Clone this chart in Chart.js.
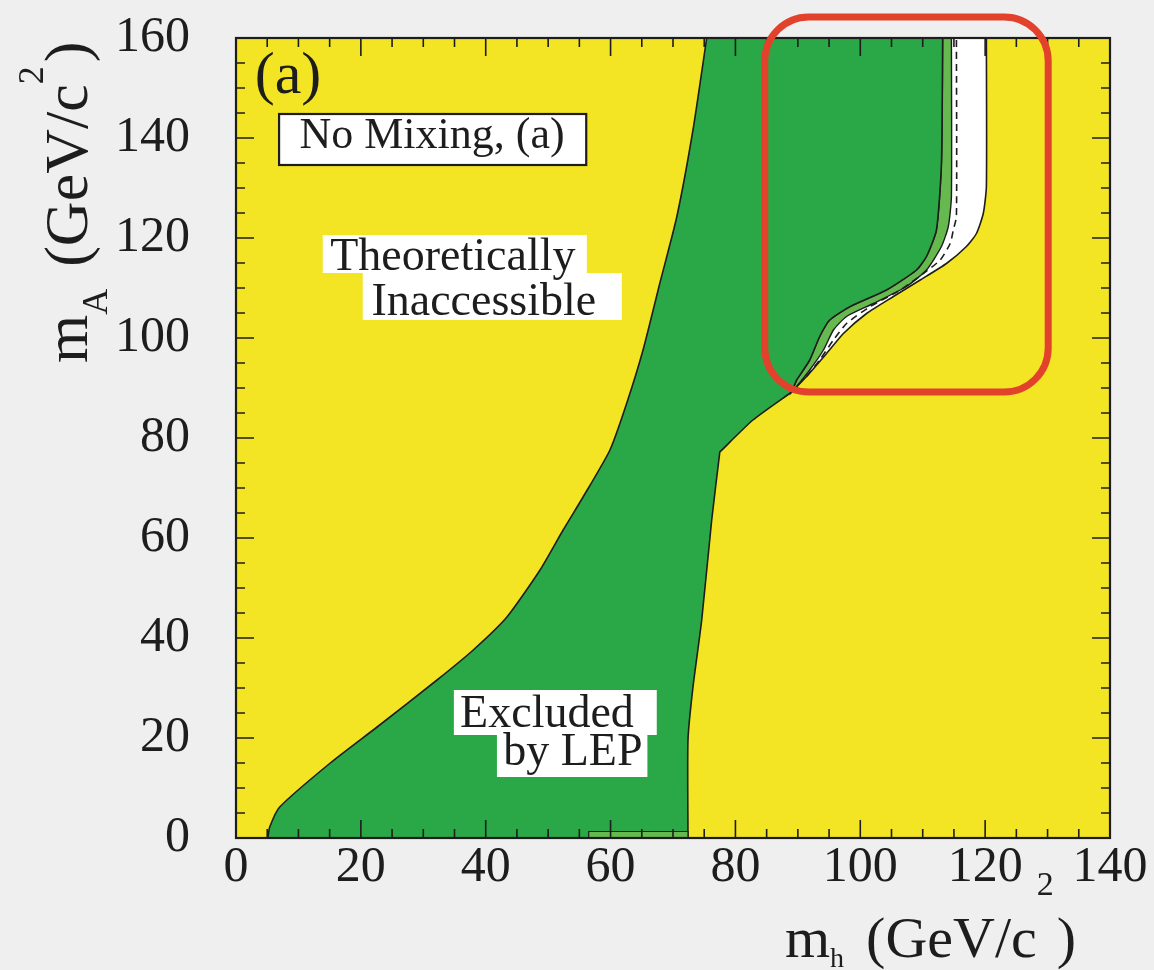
<!DOCTYPE html>
<html>
<head>
<meta charset="utf-8">
<title>LEP exclusion, no mixing</title>
<script src="https://cdn.jsdelivr.net/npm/chart.js@4.4.1/dist/chart.umd.min.js"></script>
<style>
  html, body { margin: 0; padding: 0; background: #efefef; }
  #wrap { width: 1154px; height: 970px; }
</style>
</head>
<body>
<div id="wrap"><canvas id="exclusionChart" width="1154" height="970"></canvas></div>
<script>
// boundaries, points are [m_h, m_A] in GeV/c^2
// theoretical limit (left side of the excluded area), bottom -> top
const theoryEdge = [
  [5.1, 0], [5.4, 2.2], [7.0, 6.2], [15.1, 15], [22.6, 22.2], [32.2, 31.6],
  [38.0, 37.6], [43.4, 44.2], [48.7, 53.6], [52.4, 61.6], [55.6, 68.2],
  [59.9, 77.6], [62.6, 87], [65.2, 97.6], [67.9, 111], [70.6, 124.2],
  [73.2, 141.6], [75.4, 160]
];
// lower right side of the excluded area, bottom -> kink
const lowEdge = [
  [72.4, 0], [72.4, 19.6], [73.2, 30.2], [74.6, 43.6], [76.2, 63.6], [77.5, 77.2]
];
// from the kink up to where all limits meet
const ridgeEdge = [[77.5, 77.2], [82.8, 83.6], [89.0, 89.2]];
// observed limit (dark green), top -> bottom
const observedEdge = [
  [113.2, 160], [113.0, 134.9], [112.2, 121.6], [110.6, 116.3], [109.0, 113.6],
  [104.2, 109.6], [98.4, 106.3], [95.1, 103.6], [93.5, 100.3], [91.9, 95.6],
  [89.8, 91.6]
];
// light green band, top -> bottom
const bandEdge = [
  [114.6, 160], [114.6, 128.3], [114.1, 122.3], [113.0, 118.3], [110.6, 113.6],
  [107.4, 110.3], [102.1, 106.9], [97.8, 104.3], [95.7, 101.6], [94.1, 97.6],
  [91.9, 93.6], [89.8, 90.3], [89.0, 89.2]
];
// expected limit (dashed)
const expectedEdge = [
  [115.4, 159.6], [115.4, 124.3], [114.9, 121.6], [114.4, 118.9], [112.8, 115.6],
  [110.1, 112.9], [106.4, 109.6], [101.6, 106.3], [97.8, 102.9], [95.7, 99.6],
  [93.5, 95.6], [90.9, 91.6]
];
// kinematic limit, edge of the white area, top -> bottom
const kinematicEdge = [
  [120.2, 160], [120.2, 130.3], [119.7, 124.9], [118.6, 120.9], [117.0, 118.3],
  [113.8, 114.9], [109.6, 111.6], [105.3, 108.3], [101.0, 104.9], [97.3, 100.9],
  [94.6, 96.9], [91.4, 92.3], [89.0, 89.2]
];
// small strip near the m_h axis
const smallStrip = [[56.5, 0], [56.5, 1.3], [72.4, 1.3], [72.4, 0]];

const xTicks = [0, 20, 40, 60, 80, 100, 120, 140];
const yTicks = [0, 20, 40, 60, 80, 100, 120, 140, 160];
const xMinor = [5, 10, 15, 25, 30, 35, 45, 50, 55, 65, 70, 75, 85, 90, 95, 105, 110, 115, 125, 130, 135];
const yMinor = [5, 10, 15, 25, 30, 35, 45, 50, 55, 65, 70, 75, 85, 90, 95, 105, 110, 115, 125, 130, 135, 145, 150, 155];

const YELLOW = "#f4e524";
const GREEN = "#2aa847";
const LIGHT_GREEN = "#66b94e";
const INK = "#1d1d1d";
const SERIF = "'Liberation Serif', 'Times New Roman', serif";

const pts = (arr) => arr.map(([x, y]) => ({ x, y }));
const rev = (arr) => arr.slice().reverse();
// repeat the end points so the curve keeps sharp corners where edges join
const edge = (arr) => [arr[0], ...arr, arr[arr.length - 1]];

const area = (data, fill, width, order, tension) => ({
  data: pts(data),
  backgroundColor: fill,
  borderColor: INK,
  borderWidth: width,
  fill: "shape",
  order: order,
  pointRadius: 0,
  tension: tension,
});

const notes = [
  { text: "No Mixing, (a)", box: [6.9, 56.1, 134.6, 144.8], frame: true, x: 31.4, y: 138, size: 44, align: "center" },
  { text: "Theoretically", box: [13.9, 56.2, 113, 120.6], x: 15.1, y: 113.6, size: 46 },
  { text: "Inaccessible", box: [20.3, 61.8, 103.6, 113], x: 21.7, y: 104.6, size: 46 },
  { text: "Excluded", box: [34.9, 67.4, 20.6, 29.6], x: 35.9, y: 22.2, size: 46 },
  { text: "by LEP", box: [41.8, 65.9, 12.2, 20.6], x: 42.8, y: 14.6, size: 46 },
  { text: "(a)", x: 3.0, y: 149, size: 60 },
];

const plotBackground = {
  id: "plotBackground",
  beforeDatasetsDraw(chart) {
    const { ctx, chartArea: a } = chart;
    ctx.save();
    ctx.fillStyle = YELLOW;
    ctx.fillRect(a.left, a.top, a.right - a.left, a.bottom - a.top);
    ctx.restore();
  },
};

const frameAndTicks = {
  id: "frameAndTicks",
  afterDatasetsDraw(chart) {
    const { ctx, chartArea: a, scales } = chart;
    const sx = scales.x, sy = scales.y;
    ctx.save();
    ctx.strokeStyle = INK;
    ctx.lineWidth = 1.6;
    const tick = (vals, len) => {
      vals.forEach((v) => {
        const px = sx.getPixelForValue(v);
        ctx.beginPath();
        ctx.moveTo(px, a.bottom); ctx.lineTo(px, a.bottom - len);
        ctx.moveTo(px, a.top); ctx.lineTo(px, a.top + len);
        ctx.stroke();
      });
    };
    const tickY = (vals, len) => {
      vals.forEach((v) => {
        const py = sy.getPixelForValue(v);
        ctx.beginPath();
        ctx.moveTo(a.left, py); ctx.lineTo(a.left + len, py);
        ctx.moveTo(a.right, py); ctx.lineTo(a.right - len, py);
        ctx.stroke();
      });
    };
    tick(xTicks, 18);
    tick(xMinor, 9);
    tickY(yTicks, 18);
    tickY(yMinor, 9);
    ctx.lineWidth = 2.2;
    ctx.strokeRect(a.left, a.top, a.right - a.left, a.bottom - a.top);

    // text labels with white boxes
    notes.forEach((n) => {
      if (n.box) {
        const x0 = sx.getPixelForValue(n.box[0]), x1 = sx.getPixelForValue(n.box[1]);
        const y0 = sy.getPixelForValue(n.box[3]), y1 = sy.getPixelForValue(n.box[2]);
        ctx.fillStyle = "#ffffff";
        ctx.fillRect(x0, y0, x1 - x0, y1 - y0);
        if (n.frame) {
          ctx.lineWidth = 2.2;
          ctx.strokeRect(x0, y0, x1 - x0, y1 - y0);
        }
      }
    });
    notes.forEach((n) => {
      ctx.fillStyle = INK;
      ctx.font = n.size + "px " + SERIF;
      ctx.textAlign = n.align || "left";
      ctx.textBaseline = "alphabetic";
      ctx.fillText(n.text, sx.getPixelForValue(n.x), sy.getPixelForValue(n.y));
    });
    ctx.restore();
  },
  afterDraw(chart) {
    const { ctx, chartArea: a, scales } = chart;
    const sx = scales.x, sy = scales.y;
    ctx.save();
    // red highlight box
    const l = sx.getPixelForValue(84.7), r = sx.getPixelForValue(130.1);
    const t = sy.getPixelForValue(164.2), b = sy.getPixelForValue(89.2);
    const rad = 44;
    ctx.beginPath();
    ctx.moveTo(l + rad, t);
    ctx.arcTo(r, t, r, b, rad);
    ctx.arcTo(r, b, l, b, rad);
    ctx.arcTo(l, b, l, t, rad);
    ctx.arcTo(l, t, r, t, rad);
    ctx.closePath();
    ctx.strokeStyle = "#e2412c";
    ctx.lineWidth = 7;
    ctx.stroke();

    // axis titles with sub/superscripts
    ctx.fillStyle = INK;
    ctx.textBaseline = "alphabetic";
    ctx.textAlign = "left";
    const run = (parts, x0, y0) => {
      let x = x0;
      parts.forEach(([s, size, dy, gap]) => {
        ctx.font = size + "px " + SERIF;
        ctx.fillText(s, x, y0 + dy);
        x += ctx.measureText(s).width + (gap || 0);
      });
    };
    run([["m", 58, 0], ["h", 28, 10, 22], ["(GeV/c", 58, 0], ["2", 34, -62, 3], [")", 58, 0]], a.left + 549, a.bottom + 119);

    ctx.translate(a.left - 149, a.top + 325);
    ctx.rotate(-Math.PI / 2);
    run([["m", 62, 0], ["A", 36, 20, 22], ["(GeV/c", 62, 0], ["2", 36, -44, 4], [")", 62, 0]], 0, 0);
    ctx.restore();
  },
};

const ctx = document.getElementById("exclusionChart").getContext("2d");
new Chart(ctx, {
  type: "line",
  data: {
    datasets: [
      area(smallStrip, LIGHT_GREEN, 1.2, 0, 0),
      area([...edge(theoryEdge), ...edge(observedEdge), ...edge(rev(ridgeEdge)), ...edge(rev(lowEdge))], GREEN, 1.6, 1, 0.2),
      {
        data: pts(edge(expectedEdge)),
        borderColor: INK,
        borderWidth: 1.6,
        borderDash: [7, 5],
        fill: false,
        order: 2,
        pointRadius: 0,
        tension: 0.2,
      },
      area([...edge(bandEdge), ...edge(rev(observedEdge))], LIGHT_GREEN, 1.4, 3, 0.2),
      area([...edge(kinematicEdge), ...edge(rev(observedEdge))], "#ffffff", 1.6, 4, 0.2),
    ],
  },
  options: {
    responsive: false,
    animation: false,
    events: [],
    layout: { padding: { top: 38, right: 44, left: 0, bottom: 0 } },
    plugins: { legend: { display: false }, tooltip: { enabled: false } },
    scales: {
      x: {
        type: "linear",
        min: 0,
        max: 140,
        afterBuildTicks: (s) => { s.ticks = xTicks.map((v) => ({ value: v })); },
        afterFit: (s) => { s.height = 132; s.paddingLeft = 0; s.paddingRight = 0; },
        grid: { display: false, drawTicks: false },
        border: { display: false },
        ticks: { color: INK, padding: 0, maxRotation: 0, autoSkip: false, font: { family: SERIF, size: 50 } },
      },
      y: {
        type: "linear",
        min: 0,
        max: 160,
        afterBuildTicks: (s) => { s.ticks = yTicks.map((v) => ({ value: v })); },
        afterFit: (s) => { s.width = 236; s.paddingTop = 0; s.paddingBottom = 0; },
        grid: { display: false, drawTicks: false },
        border: { display: false },
        ticks: { color: INK, padding: 46, autoSkip: false, font: { family: SERIF, size: 50 } },
      },
    },
  },
  plugins: [plotBackground, frameAndTicks],
});
</script>
</body>
</html>
